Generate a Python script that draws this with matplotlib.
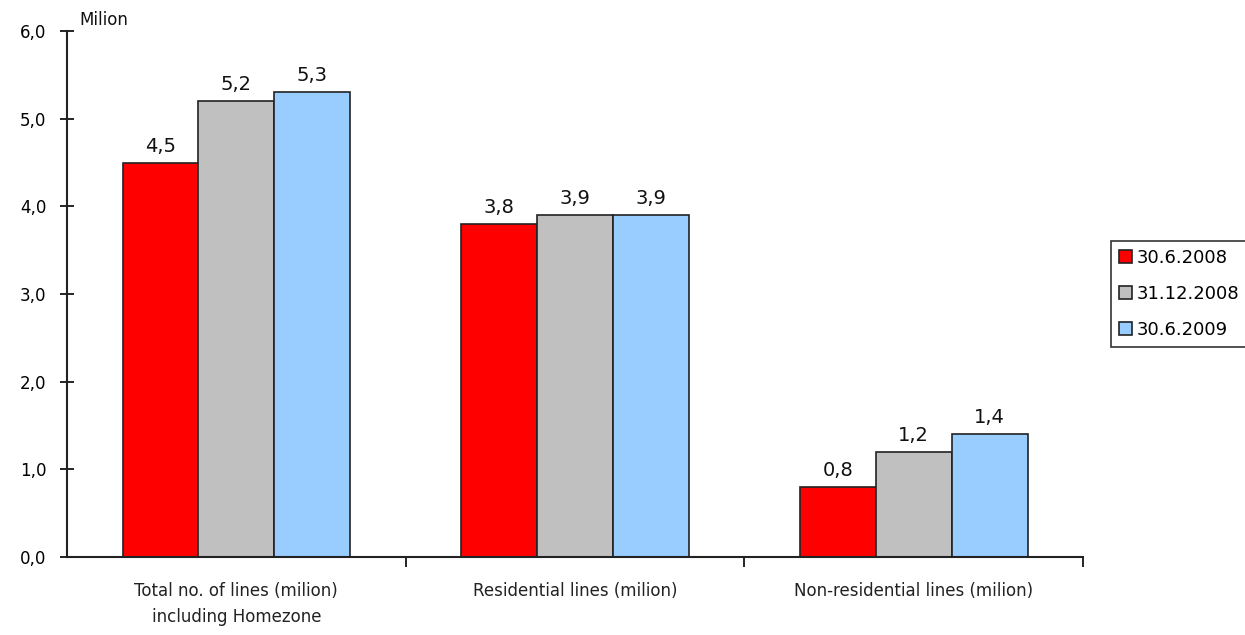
import numpy as np
import matplotlib.pyplot as plt

categories = ['Total no. of lines (milion)\nincluding Homezone',
              'Residential lines (milion)',
              'Non-residential lines (milion)']
series_names = ['30.6.2008', '31.12.2008', '30.6.2009']
values = [[4.5, 3.8, 0.8],
          [5.2, 3.9, 1.2],
          [5.3, 3.9, 1.4]]
colors = ['#FF0000', '#C0C0C0', '#99CCFF']

fig = plt.figure(figsize=(12.45, 6.35), dpi=100)
ax = fig.add_axes([0.0538, 0.1228, 0.8162, 0.8282])

x = np.arange(len(categories))
w = 0.224
for i, (name, vals) in enumerate(zip(series_names, values)):
    pos = x + (i - 1) * w
    ax.bar(pos, vals, w, color=colors[i], edgecolor='#222222', linewidth=1.2, label=name)
    for p, v in zip(pos, vals):
        ax.text(p, v + 0.08, ('%.1f' % v).replace('.', ','), ha='center', va='bottom', fontsize=14, color='#111111')

ax.set_xlim(-0.5, 2.5)
ax.set_ylim(0, 6)
ax.set_yticks(np.arange(0, 7, 1))
ax.set_yticklabels([('%.1f' % t).replace('.', ',') for t in np.arange(0, 7, 1)], fontsize=12)
ax.set_xticks(x)
ax.set_xticklabels(categories, fontsize=12, color='#222222', linespacing=1.6)
ax.tick_params(axis='x', length=0, pad=18)
ax.set_xticks([0.5, 1.5, 2.5], minor=True)
ax.tick_params(axis='x', which='minor', length=7, direction='out', width=1.2)
ax.tick_params(axis='y', direction='inout', length=10, width=1.2, pad=10)
for s in ['top', 'right']:
    ax.spines[s].set_visible(False)
for s in ['left', 'bottom']:
    ax.spines[s].set_linewidth(1.5)
    ax.spines[s].set_color('#222222')

fig.text(0.064, 0.955, 'Milion', fontsize=12, color='#111111', va='bottom')

leg = fig.legend(loc='upper left', bbox_to_anchor=(0.885, 0.635), fontsize=13,
                 frameon=True, fancybox=False, edgecolor='black', handlelength=0.7,
                 handleheight=0.7, handletextpad=0.3, borderpad=0.45, labelspacing=1.0)
leg.get_frame().set_linewidth(1.2)

fig.savefig('out.png', dpi=100)
